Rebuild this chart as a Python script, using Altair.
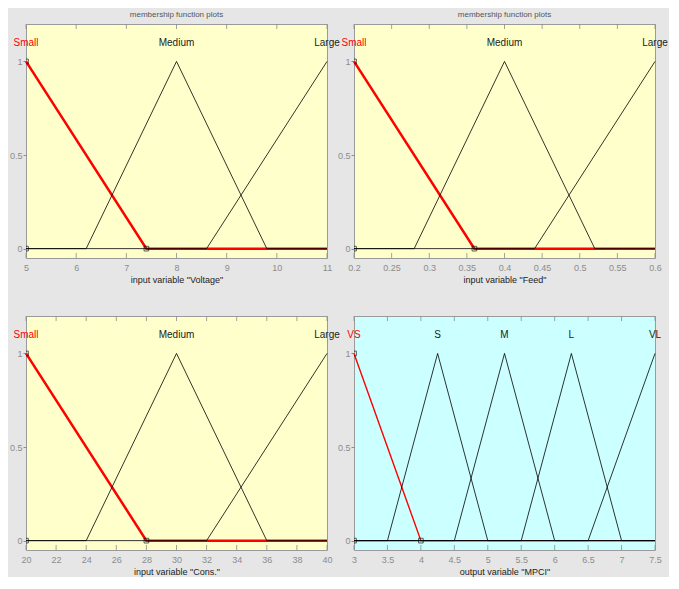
import altair as alt
import pandas as pd

FONT = "Liberation Sans, Arial, sans-serif"

# ---- Panel 1: input "Voltage"
volt_names = ["Small", "Medium", "Large"]
volt_x = [[5, 7.4, 11], [5, 6.2, 8, 9.8, 11], [5, 8.6, 11]]
volt_y = [[1, 0, 0], [0, 0, 1, 0, 0], [0, 0, 1]]
volt_peak = [5, 8, 11]
volt_ticks = [5, 6, 7, 8, 9, 10, 11]
volt_marks_x = [5, 5, 7.4]
volt_marks_y = [1, 0, 0]

# ---- Panel 2: input "Feed"
feed_names = ["Small", "Medium", "Large"]
feed_x = [[0.2, 0.36, 0.6], [0.2, 0.28, 0.4, 0.52, 0.6], [0.2, 0.44, 0.6]]
feed_y = [[1, 0, 0], [0, 0, 1, 0, 0], [0, 0, 1]]
feed_peak = [0.2, 0.4, 0.6]
feed_ticks = [0.2, 0.25, 0.3, 0.35, 0.4, 0.45, 0.5, 0.55, 0.6]
feed_marks_x = [0.2, 0.2, 0.36]
feed_marks_y = [1, 0, 0]

# ---- Panel 3: input "Cons."
cons_names = ["Small", "Medium", "Large"]
cons_x = [[20, 28, 40], [20, 24, 30, 36, 40], [20, 32, 40]]
cons_y = [[1, 0, 0], [0, 0, 1, 0, 0], [0, 0, 1]]
cons_peak = [20, 30, 40]
cons_ticks = [20, 22, 24, 26, 28, 30, 32, 34, 36, 38, 40]
cons_marks_x = [20, 20, 28]
cons_marks_y = [1, 0, 0]

# ---- Panel 4: output "MPCI"
mpci_names = ["VS", "S", "M", "L", "VL"]
mpci_x = [[3, 4, 7.5], [3, 3.5, 4.25, 5, 7.5], [3, 4.5, 5.25, 6, 7.5],
          [3, 5.5, 6.25, 7, 7.5], [3, 6.5, 7.5]]
mpci_y = [[1, 0, 0], [0, 0, 1, 0, 0], [0, 0, 1, 0, 0], [0, 0, 1, 0, 0], [0, 0, 1]]
mpci_peak = [3, 4.25, 5.25, 6.25, 7.5]
mpci_ticks = [3, 3.5, 4, 4.5, 5, 5.5, 6, 6.5, 7, 7.5]
mpci_marks_x = [3, 3, 4]
mpci_marks_y = [1, 0, 0]

W, H = 301, 234


def panel(names, xs, ys, peaks, ticks, mx, my, axis_title, fill, sel_width, top_title):
    rows = []
    for k, (n, xx, yy) in enumerate(zip(names, xs, ys)):
        for i, (a, b) in enumerate(zip(xx, yy)):
            rows.append({"mf": n, "kind": "sel" if k == 0 else "oth", "i": i, "x": a, "y": b})
    df = pd.DataFrame(rows)
    lab = pd.DataFrame({"mf": names, "p": peaks,
                        "kind": ["sel"] + ["oth"] * (len(names) - 1)})
    tk = pd.DataFrame({"t": ticks})
    mk = pd.DataFrame({"x": mx, "y": my})

    xsc = alt.Scale(domain=[ticks[0], ticks[-1]], nice=False, zero=False)
    ysc = alt.Scale(domain=[-0.05, 1.2], nice=False, zero=False)
    xaxis = alt.Axis(values=ticks, format="~g", title=axis_title, ticks=False, domain=False,
                     grid=False, labelFont=FONT, labelFontSize=9, labelColor="#8c8c8c",
                     labelPadding=5, labelFlush=False, labelOverlap=False, labelSeparation=0,
                     titleFont=FONT, titleFontSize=9, titleFontWeight="normal",
                     titleColor="#222222", titlePadding=3)
    yaxis = alt.Axis(values=[0, 0.5, 1], format="~g", title=None, tickSize=3,
                     tickColor="#8c8c8c", domain=False, grid=False, labelFont=FONT,
                     labelFontSize=9, labelColor="#8c8c8c", labelPadding=1)

    base_x = alt.X("x:Q", scale=xsc, axis=xaxis)
    sel = alt.Chart(df).transform_filter("datum.kind == 'sel'").mark_line(
        color="#ff0000", strokeWidth=sel_width).encode(
        x=base_x, y=alt.Y("y:Q", scale=ysc, axis=yaxis), order="i:Q")
    oth = alt.Chart(df).transform_filter("datum.kind == 'oth'").mark_line(
        color="#000000", strokeWidth=0.8).encode(
        x=base_x, y="y:Q", detail="mf:N", order="i:Q")
    top_ticks = alt.Chart(tk).mark_rule(color="#8c8c8c", strokeWidth=0.8).encode(
        x=alt.X("t:Q", axis=xaxis), y=alt.value(0), y2=alt.value(5))
    bot_ticks = alt.Chart(tk).mark_rule(color="#8c8c8c", strokeWidth=0.8).encode(
        x=alt.X("t:Q", axis=xaxis), y=alt.value(H), y2=alt.value(H - 5))
    sq = alt.Chart(mk).mark_square(filled=False, size=22, color="#000000",
                                   strokeWidth=0.9, clip=True).encode(
        x=alt.X("x:Q", axis=xaxis), y="y:Q")
    txt = alt.Chart(lab).mark_text(font=FONT, fontSize=10, baseline="middle").encode(
        x=alt.X("p:Q", axis=xaxis), y=alt.datum(1.1), text="mf:N",
        color=alt.Color("kind:N", scale=alt.Scale(domain=["sel", "oth"],
                                                  range=["#ff0000", "#222222"]), legend=None))
    ch = alt.layer(sel, oth, top_ticks, bot_ticks, sq, txt).properties(
        width=W, height=H,
        view=alt.ViewBackground(fill=fill, stroke="#9a9a9a", strokeWidth=1))
    if top_title:
        ch = ch.properties(title=alt.Title("membership function plots", font=FONT, fontSize=8,
                                           fontWeight="normal", color="#555555", offset=5))
    return ch


YEL = "#ffffcc"
CYA = "#ccffff"
p1 = panel(volt_names, volt_x, volt_y, volt_peak, volt_ticks, volt_marks_x, volt_marks_y,
           'input variable "Voltage"', YEL, 2.5, True)
p2 = panel(feed_names, feed_x, feed_y, feed_peak, feed_ticks, feed_marks_x, feed_marks_y,
           'input variable "Feed"', YEL, 2.5, True)
p3 = panel(cons_names, cons_x, cons_y, cons_peak, cons_ticks, cons_marks_x, cons_marks_y,
           'input variable "Cons."', YEL, 2.5, False)
p4 = panel(mpci_names, mpci_x, mpci_y, mpci_peak, mpci_ticks, mpci_marks_x, mpci_marks_y,
           'output variable "MPCI"', CYA, 1.4, False)

chart = alt.concat(p1, p2, p3, p4, columns=2, spacing={"row": 58, "column": 27},
                   bounds="flush").configure(
    background="#e6e6e6", padding={"left": 0, "top": 2, "right": 0, "bottom": 0}
).configure_axis(labelOverlap=False, labelSeparation=0)

chart.save("out.html", embed_options={"renderer": "svg", "actions": False})
